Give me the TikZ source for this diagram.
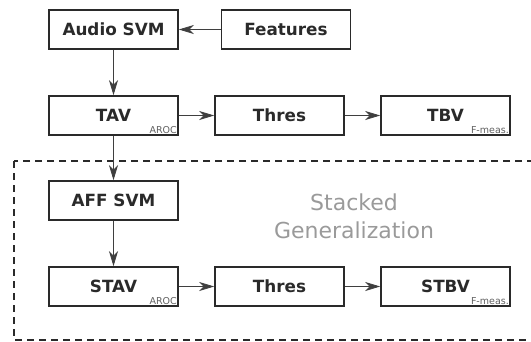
\documentclass[tikz,border=0pt]{standalone}
\usepackage{fontspec}
\setmainfont{DejaVu Sans}
\usetikzlibrary{arrows.meta}
\definecolor{ink}{HTML}{2A2A2A}
\definecolor{soft}{HTML}{9A9A9A}
\tikzset{
  blk/.style={draw=ink, line width=1.6pt, minimum width=129pt, minimum height=39pt,
    inner sep=0pt, font=\bfseries\fontsize{16.8}{18}\selectfont, text=ink},
  tag/.style={font=\fontsize{9.5}{10}\selectfont, text=ink!75, inner sep=1.8pt, anchor=south east},
  flow/.style={draw=ink!90, line width=0.8pt, -{Stealth[length=15pt,width=9pt,inset=4.5pt]}},
  frame/.style={draw=ink, line width=1.2pt, dash pattern=on 7pt off 5pt}
}
\begin{document}
\begin{tikzpicture}[x=1pt,y=-1pt]
\useasboundingbox (0,0) rectangle (531,341);
\begin{scope}
  \clip (0,0) rectangle (531,341);
  \draw[frame] (14,161) rectangle (545,340);
\end{scope}
\node[blk] (audio) at (113.5,29.5) {Audio SVM};
\node[blk] (feat) at (286,29.5) {Features};
\node[blk] (tav) at (113.5,115.5) {TAV};
\node[blk] (thr1) at (279.5,115.5) {Thres};
\node[blk] (tbv) at (445.5,115.5) {TBV};
\node[blk] (aff) at (113.5,200.5) {AFF SVM};
\node[blk] (stav) at (113.5,286.5) {STAV};
\node[blk] (thr2) at (279.5,286.5) {Thres};
\node[blk] (stbv) at (445.5,286.5) {STBV};
\node[tag] (t1) at (tav.south east) {AROC};
\node[tag] (t2) at (tbv.south east) {F-meas.};
\node[tag] (t3) at (stav.south east) {AROC};
\node[tag] (t4) at (stbv.south east) {F-meas.};
\node[text=soft, font=\fontsize{22}{28}\selectfont, align=center] (sg) at (354,216) {Stacked\\Generalization};
\draw[flow] (feat) -- (audio);
\draw[flow] (audio) -- (tav);
\draw[flow] (tav) -- (thr1);
\draw[flow] (thr1) -- (tbv);
\draw[flow] (tav) -- (aff);
\draw[flow] (aff) -- (stav);
\draw[flow] (stav) -- (thr2);
\draw[flow] (thr2) -- (stbv);
\end{tikzpicture}
\end{document}
